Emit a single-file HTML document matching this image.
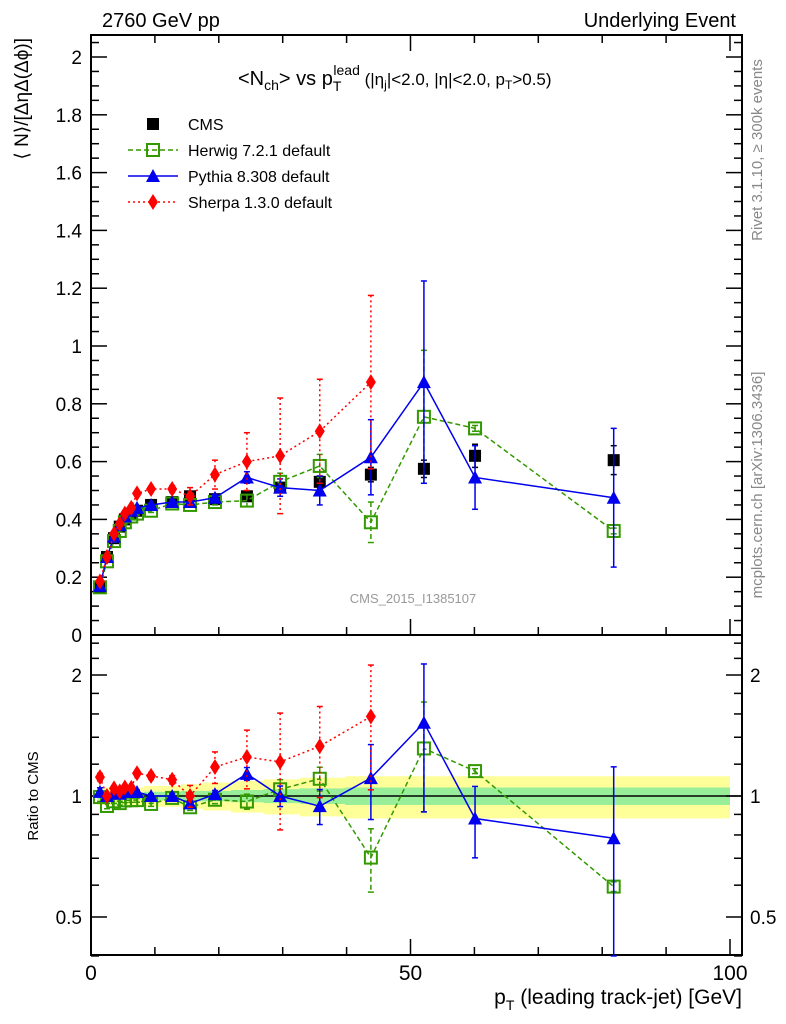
<!DOCTYPE html>
<html><head><meta charset="utf-8"><style>
body{margin:0;background:#fff}
svg{display:block;font-family:"Liberation Sans",sans-serif}
</style></head><body>
<svg id="c" width="786" height="1024" viewBox="0 0 786 1024" xmlns="http://www.w3.org/2000/svg">
<text x="102" y="27" font-size="20">2760 GeV pp</text>
<text x="736" y="27" font-size="20" text-anchor="end">Underlying Event</text>
<text transform="translate(762,150) rotate(-90)" font-size="15" fill="#888" text-anchor="middle">Rivet 3.1.10, ≥ 300k events</text>
<text transform="translate(762,485) rotate(-90)" font-size="15" fill="#888" text-anchor="middle">mcplots.cern.ch [arXiv:1306.3436]</text>
<text x="413" y="603" font-size="13" fill="#999" text-anchor="middle">CMS_2015_I1385107</text>
<text x="238" y="85" font-size="20">&lt;N<tspan font-size="14" dy="5">ch</tspan><tspan dy="-5">&gt; vs p</tspan><tspan font-size="14" dy="6">T</tspan><tspan font-size="14" dx="-8" dy="-16">lead</tspan><tspan font-size="17" dy="10"> (|η</tspan><tspan font-size="12" dy="4">j</tspan><tspan font-size="17" dy="-4">|&lt;2.0, |η|&lt;2.0, p</tspan><tspan font-size="12" dy="4">T</tspan><tspan font-size="17" dy="-4">&gt;0.5)</tspan></text>
<text transform="translate(28,38) rotate(-90)" font-size="19" text-anchor="end">⟨ N⟩/[ΔηΔ(Δϕ)]</text>
<text transform="translate(38,796) rotate(-90)" font-size="15" text-anchor="middle">Ratio to CMS</text>
<text x="742" y="1004" font-size="21" text-anchor="end">p<tspan font-size="14" dy="6">T</tspan><tspan dy="-6"> (leading track-jet) [GeV]</tspan></text>
<g id="g"></g>
</svg>
<script>
const pt=[1.4,2.5,3.6,4.5,5.3,6.3,7.2,9.4,12.7,15.5,19.4,24.4,29.6,35.8,43.8,52.1,60.1,81.8];
const cms=[0.166,0.27,0.335,0.375,0.40,0.42,0.43,0.45,0.46,0.48,0.47,0.48,0.51,0.53,0.555,0.575,0.62,0.605];
const cmsErr=[0.005,0.006,0.006,0.006,0.006,0.007,0.007,0.007,0.008,0.008,0.01,0.012,0.015,0.02,0.025,0.03,0.04,0.05];
const statRel=[0.02,0.02,0.02,0.02,0.02,0.02,0.02,0.025,0.025,0.03,0.03,0.035,0.04,0.045,0.05,0.05,0.05,0.05];
const totRel=[0.05,0.05,0.05,0.05,0.05,0.05,0.05,0.06,0.06,0.07,0.08,0.09,0.1,0.11,0.12,0.12,0.12,0.12];
const herwig=[0.165,0.255,0.325,0.36,0.39,0.41,0.42,0.43,0.455,0.45,0.46,0.465,0.53,0.585,0.39,0.755,0.715,0.36];
const herwigErr=[0.004,0.004,0.004,0.004,0.005,0.005,0.005,0.006,0.007,0.008,0.01,0.02,0.03,0.04,0.07,0.23,0.01,0.01];
const pythia=[0.17,0.27,0.34,0.38,0.41,0.43,0.44,0.45,0.46,0.46,0.475,0.545,0.51,0.50,0.615,0.875,0.545,0.475];
const pythiaErr=[0.004,0.004,0.004,0.004,0.005,0.005,0.005,0.006,0.007,0.008,0.01,0.02,0.03,0.05,0.13,0.35,0.11,0.24];
const sherpa=[0.185,0.27,0.35,0.385,0.42,0.44,0.49,0.505,0.505,0.48,0.555,0.60,0.62,0.705,0.875];
const sherpaErr=[0.004,0.004,0.005,0.005,0.005,0.006,0.008,0.01,0.012,0.03,0.05,0.1,0.2,0.18,0.3];
const yTicks=[0,0.2,0.4,0.6,0.8,1,1.2,1.4,1.6,1.8,2];
const rTicks=[0.5,1,2];
const xTicks=[0,50,100];

const NS="http://www.w3.org/2000/svg",G=document.getElementById('g');
const L=91,R=742,T=35,MB=635,RB=955;
const X=v=>91+v*6.39, Y=v=>635-v*289;
const RY=v=>796-Math.log2(v)*121;
function mk(t,a,p){const e=document.createElementNS(NS,t);for(const k in a)e.setAttribute(k,a[k]);(p||G).appendChild(e);return e;}
function band(rel,fill,name){
 const top=[],bot=[];
 pt.forEach((p,i)=>{const lo=i?(p+pt[i-1])/2:1;const hi=i<pt.length-1?(p+pt[i+1])/2:100;
  top.push(X(lo)+','+RY(1+rel[i]),X(hi)+','+RY(1+rel[i]));
  bot.push(X(lo)+','+RY(1-rel[i]),X(hi)+','+RY(1-rel[i]));});
 const e=mk('polygon',{points:top.concat(bot.reverse()).join(' '),fill:fill});
 }
band(totRel,'#ffff99','ratio-syst-band');
band(statRel,'#99ee99','ratio-stat-band');
mk('line',{x1:L,x2:R,y1:RY(1),y2:RY(1),stroke:'#000','stroke-width':1.5});
mk('rect',{x:L,y:T,width:R-L,height:MB-T,fill:'none',stroke:'#000','stroke-width':2});
mk('rect',{x:L,y:MB,width:R-L,height:RB-MB,fill:'none',stroke:'#000','stroke-width':2});
for(let v=0;v<=2.07;v+=0.05){const maj=Math.abs(v/0.2-Math.round(v/0.2))<1e-6;const l=maj?16:8;
mk('line',{x1:L,x2:L+l,y1:Y(v),y2:Y(v),stroke:'#000','stroke-width':1.5});mk('line',{x1:R,x2:R-l,y1:Y(v),y2:Y(v),stroke:'#000','stroke-width':1.5});}
yTicks.forEach(v=>{const t=mk('text',{x:82,y:Y(v)+7,'font-size':19,'text-anchor':'end'});t.textContent=String(v);
});
[0.4,0.5,0.6,0.7,0.8,0.9,1,1.2,1.4,1.6,1.8,2,2.2,2.4].forEach(v=>{const maj=rTicks.includes(v);const l=maj?16:8;
mk('line',{x1:L,x2:L+l,y1:RY(v),y2:RY(v),stroke:'#000','stroke-width':1.5});mk('line',{x1:R,x2:R-l,y1:RY(v),y2:RY(v),stroke:'#000','stroke-width':1.5});});
rTicks.forEach(v=>{let t=mk('text',{x:82,y:RY(v)+7,'font-size':19,'text-anchor':'end'});t.textContent=String(v);

t=mk('text',{x:750,y:RY(v)+7,'font-size':19});t.textContent=String(v);
});
for(let v=0;v<=100;v+=10){const l=v%50==0?16:8;
[MB,RB].forEach(b=>mk('line',{x1:X(v),x2:X(v),y1:b,y2:b-l,stroke:'#000','stroke-width':1.5}));mk('line',{x1:X(v),x2:X(v),y1:T,y2:T+l,stroke:'#000','stroke-width':1.5});}
xTicks.forEach(v=>{const t=mk('text',{x:X(v),y:980,'font-size':21,'text-anchor':'middle'});t.textContent=String(v);
});
function marker(kind,x,y,c,g){
 if(kind=='sq')mk('rect',{x:x-6,y:y-6,width:12,height:12,fill:'#000'},g);
 else if(kind=='osq')mk('rect',{x:x-6,y:y-6,width:12,height:12,fill:'none',stroke:c,'stroke-width':2},g);
 else if(kind=='tri')mk('polygon',{points:`${x},${y-7} ${x+7},${y+6} ${x-7},${y+6}`,fill:c},g);
 else mk('polygon',{points:`${x},${y-8} ${x+5},${y} ${x},${y+8} ${x-5},${y}`,fill:c},g);}
function series(name,vals,errs,c,dash,kind,lined){
 const g=mk('g',{});
 if(lined){mk('polyline',{points:vals.map((v,i)=>X(pt[i])+','+Y(v)).join(' '),fill:'none',stroke:c,'stroke-width':1.5,'stroke-dasharray':dash},g);
 mk('polyline',{points:vals.map((v,i)=>X(pt[i])+','+RY(v/cms[i])).join(' '),fill:'none',stroke:c,'stroke-width':1.5,'stroke-dasharray':dash},g);}
 vals.forEach((v,i)=>{const x=X(pt[i]);
  const sets=[[Y(v+errs[i]),Y(Math.max(v-errs[i],0)),Y(v)]];
  if(kind!='sq')sets.push([RY(Math.min((v+errs[i])/cms[i],2.49)),RY(Math.max((v-errs[i])/cms[i],0.4)),RY(v/cms[i])]);
  sets.forEach(([a,b,m])=>{
   mk('line',{x1:x,x2:x,y1:a,y2:b,stroke:c,'stroke-width':1.5,'stroke-dasharray':dash},g);
   mk('line',{x1:x-3,x2:x+3,y1:a,y2:a,stroke:c,'stroke-width':1.5},g);mk('line',{x1:x-3,x2:x+3,y1:b,y2:b,stroke:c,'stroke-width':1.5},g);
   marker(kind,x,m,c,g);});});}
series('cms',cms,cmsErr,'#000','','sq',false);
series('herwig',herwig,herwigErr,'#339900','5,3','osq',true);
series('pythia',pythia,pythiaErr,'#0000ee','','tri',true);
series('sherpa',sherpa,sherpaErr,'#ff0000','2,3','dia',true);
const leg=[['CMS','#000','','sq'],['Herwig 7.2.1 default','#339900','5,3','osq'],['Pythia 8.308 default','#0000ee','','tri'],['Sherpa 1.3.0 default','#ff0000','2,3','dia']];
leg.forEach((l,i)=>{const y=124+i*26;const g=mk('g',{});
 if(i>0)mk('line',{x1:128,x2:178,y1:y,y2:y,stroke:l[1],'stroke-width':1.5,'stroke-dasharray':l[2]},g);
 marker(l[3],153,y,l[1],g);const t=mk('text',{x:188,y:y+6,'font-size':16},g);t.textContent=l[0];});
</script>
</body></html>
